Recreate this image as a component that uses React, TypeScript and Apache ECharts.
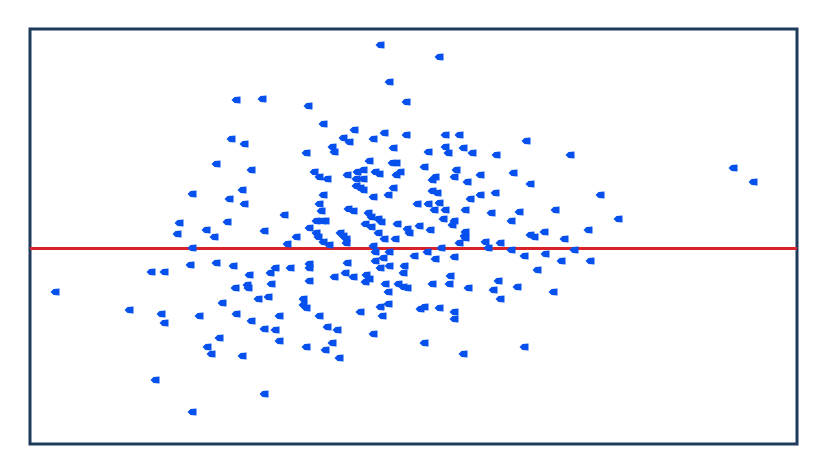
import React, { useEffect, useRef } from "react";
import * as echarts from "echarts";

// x values (horizontal position, arbitrary units 0..767)
const xValues: number[] = [
  350, 409, 359, 206, 232, 376, 278, 293, 324, 201, 214, 313, 319, 343, 354, 376, 302, 304, 276, 363,
  339, 362, 366, 415, 429, 496, 398, 415, 418, 433, 442, 466, 540, 186, 221, 333, 426, 703, 394, 162,
  149, 176, 147, 184, 162, 160, 186, 121, 134, 25, 197, 284, 289, 297, 317, 327, 326, 333, 326, 330,
  333, 345, 349, 366, 370, 363, 358, 343, 212, 199, 214, 293, 289, 291, 318, 323, 338, 341, 348, 351,
  335, 341, 367, 377, 379, 254, 279, 286, 292, 295, 234, 286, 288, 266, 310, 313, 316, 316, 348, 354,
  365, 293, 299, 257, 343, 345, 359, 353, 345, 384, 203, 219, 245, 240, 260, 279, 279, 317, 350, 359,
  374, 373, 315, 323, 304, 336, 339, 335, 279, 241, 217, 218, 205, 355, 368, 373, 377, 358, 238, 228,
  273, 273, 276, 358, 450, 483, 405, 402, 424, 437, 500, 570, 402, 407, 450, 465, 440, 387, 398, 409,
  404, 415, 435, 461, 489, 525, 413, 424, 422, 481, 389, 400, 435, 434, 435, 500, 504, 514, 534, 558,
  429, 455, 458, 470, 411, 397, 481, 494, 515, 544, 405, 424, 531, 560, 507, 420, 402, 419, 438, 468,
  463, 487, 523, 470, 723, 588, 99, 131, 134, 169, 189, 177, 181, 125, 162, 192, 206, 221, 234, 245,
  249, 249, 289, 297, 307, 302, 295, 276, 309, 212, 234, 330, 350, 352, 343, 390, 394, 409, 424, 424,
  394, 433, 494,
];

// y values (deviation from the reference line at 0)
const yValues: number[] = [
  203, 191, 166, 148, 149, 146, 142, 124, 118, 109, 104, 110, 106, 109, 115, 113, 101, 96, 95, 100,
  87, 85, 85, 113, 113, 107, 96, 101, 95, 100, 95, 93, 93, 84, 78, 78, 78, 80, 81, 54,
  25, 18, 14, 11, 0, -17, -15, -24, -24, -44, 26, 76, 71, 69, 73, 76, 69, 69, 62, 60,
  58, 76, 74, 73, 76, 60, 53, 51, 58, 49, 44, 53, 44, 37, 39, 37, 35, 31, 29, 26,
  24, 21, 24, 19, 15, 33, 20, 27, 27, 27, 17, 15, 11, 11, 15, 12, 9, 5, 15, 9,
  9, 6, 3, 4, 2, -4, -4, -10, -13, -8, -18, -27, -20, -25, -20, -16, -20, -15, -20, -18,
  -18, -25, -25, -29, -29, -27, -31, -34, -33, -36, -37, -40, -40, -36, -36, -39, -40, -44, -49, -51,
  -51, -57, -60, -56, 73, 75, 71, 68, 71, 66, 64, 53, 57, 55, 53, 55, 49, 44, 44, 45,
  38, 38, 38, 35, 36, 38, 29, 27, 23, 27, 22, 18, 16, 12, 10, 13, 11, 16, 9, 18,
  5, 6, 0, 5, 0, -4, -2, -8, -6, -2, -11, -9, -13, -13, -22, -28, -36, -36, -40, -33,
  -42, -39, -44, -51, 66, 29, -62, -66, -75, -68, -90, -99, -106, -132, -164, -55, -66, -73, -81, -82,
  -68, -93, -68, -79, -82, -95, -102, -99, -110, -108, -146, -64, -59, -68, -86, -61, -59, -60, -64, -71,
  -95, -106, -99,
];

const referenceLevel: number[] = [0];

export default function App() {
  const ref = useRef<HTMLDivElement>(null);

  useEffect(() => {
    if (!ref.current) return;
    const chart = echarts.init(ref.current, null, { renderer: "svg" });
    const points = xValues.map((x, i) => [x, yValues[i]]);
    chart.setOption({
      animation: false,
      backgroundColor: "#ffffff",
      grid: {
        left: 30,
        top: 29,
        right: 37,
        bottom: 21,
        show: true,
        borderColor: "#1f3b5c",
        borderWidth: 3,
        backgroundColor: "transparent",
      },
      xAxis: {
        type: "value",
        min: 0,
        max: 767,
        axisLine: { show: false },
        axisTick: { show: false },
        axisLabel: { show: false },
        splitLine: { show: false },
      },
      yAxis: {
        type: "value",
        min: -196,
        max: 219,
        axisLine: { show: false },
        axisTick: { show: false },
        axisLabel: { show: false },
        splitLine: { show: false },
      },
      series: [
        {
          type: "scatter",
          data: points,
          symbol: "path://M0,3L3,0.5L9,0L9,6L3,5.5Z",
          symbolSize: [9, 7],
          itemStyle: { color: "#0650ee", opacity: 1 },
          markLine: {
            silent: true,
            symbol: "none",
            label: { show: false },
            lineStyle: { color: "#d8232a", width: 3, type: "solid", opacity: 1 },
            data: referenceLevel.map((v) => ({ yAxis: v })),
            z: 1,
          },
        },
      ],
    });
    return () => chart.dispose();
  }, []);

  return (
    <div
      ref={ref}
      style={{ position: "fixed", left: 0, top: 0, width: 834, height: 465, background: "#fff" }}
    />
  );
}
